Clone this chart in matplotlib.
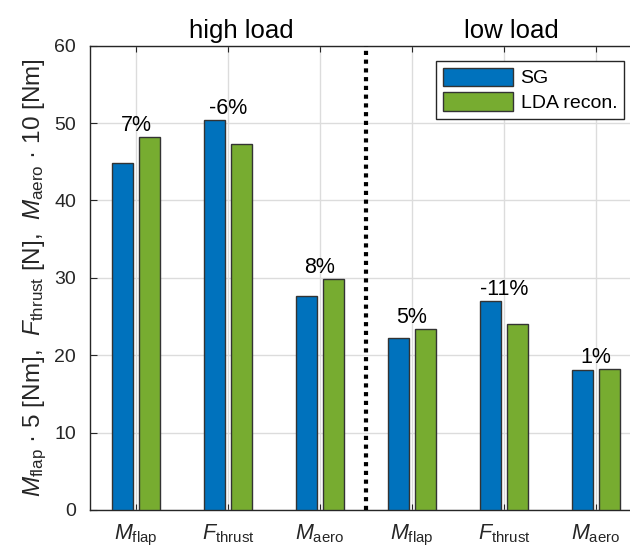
import matplotlib.pyplot as plt
import numpy as np

plt.rcParams['font.family'] = ['Liberation Sans', 'DejaVu Sans']
plt.rcParams['mathtext.fontset'] = 'custom'
plt.rcParams['mathtext.rm'] = 'Liberation Sans'
plt.rcParams['mathtext.it'] = 'Liberation Sans:italic'
plt.rcParams['mathtext.bf'] = 'Liberation Sans:bold'

# measured values, scaled (M_flap * 5, F_thrust, M_aero * 10)
categories = [r'$M_{\mathrm{flap}}$', r'$F_{\mathrm{thrust}}$', r'$M_{\mathrm{aero}}$',
              r'$M_{\mathrm{flap}}$', r'$F_{\mathrm{thrust}}$', r'$M_{\mathrm{aero}}$']
sg = [44.9, 50.4, 27.6, 22.2, 27.0, 18.1]
lda = [48.2, 47.3, 29.8, 23.4, 24.1, 18.2]
diff_labels = ['7%', '-6%', '8%', '5%', '-11%', '1%']
group_titles = ['high load', 'low load']

blue = '#0072BD'
green = '#77AC30'
axis_gray = '#262626'

fig = plt.figure(figsize=(6.3, 5.5), dpi=100)
ax = fig.add_axes([90 / 630, 1 - 510 / 550, 552 / 630, (510 - 45.7) / 550])

x = np.arange(len(categories))
w = 0.225
off = 0.145
ax.bar(x - off, sg, w, color=blue, edgecolor='#333333', linewidth=1.0, label='SG', zorder=3)
ax.bar(x + off, lda, w, color=green, edgecolor='#333333', linewidth=1.0, label='LDA recon.', zorder=3)

# relative difference of the reconstruction above each pair
for xi, a, b, t in zip(x, sg, lda, diff_labels):
    ax.text(xi, max(a, b) + 0.8, t, ha='center', va='baseline', fontsize=15.5, color='black')

# separator between the load cases
ax.plot([2.5, 2.5], [0, 60], color='black', linewidth=3, linestyle=(0, (1, 1.1)), zorder=4)

ax.text(1.15, 61.0, group_titles[0], ha='center', va='baseline', fontsize=18.5)
ax.text(4.08, 61.0, group_titles[1], ha='center', va='baseline', fontsize=18.5)

ax.set_xlim(-0.5, 5.5)
ax.set_ylim(0, 60)
ax.set_xticks(x)
ax.set_xticklabels(categories, fontsize=15.5)
ax.set_yticks(range(0, 61, 10))
ax.tick_params(axis='y', labelsize=14, direction='in', length=5, pad=10, colors=axis_gray,
               labelcolor=axis_gray)
ax.tick_params(axis='x', direction='in', length=4, pad=9, top=True, colors=axis_gray,
               labelcolor=axis_gray)
ax.grid(True, color='#dcdcdc', linewidth=1.0, zorder=0)
ax.set_axisbelow(True)
for s in ax.spines.values():
    s.set_color(axis_gray)
    s.set_linewidth(1.0)

ax.set_ylabel(r'$M_{\mathrm{flap}}$ · 5 [Nm],  $F_{\mathrm{thrust}}$ [N],  $M_{\mathrm{aero}}$ · 10 [Nm]',
              fontsize=17.5, color=axis_gray, labelpad=4)

leg = ax.legend(loc='upper right', bbox_to_anchor=((624 - 90) / 552, (510 - 60.7) / 464.3),
                fontsize=14, frameon=True, fancybox=False, handlelength=3.6, handleheight=1.1,
                borderpad=0.35, labelspacing=0.25, handletextpad=0.4, borderaxespad=0)
leg.get_frame().set_edgecolor(axis_gray)
leg.get_frame().set_linewidth(1.0)
leg.get_frame().set_alpha(1)

fig.savefig('out.png', dpi=100)
